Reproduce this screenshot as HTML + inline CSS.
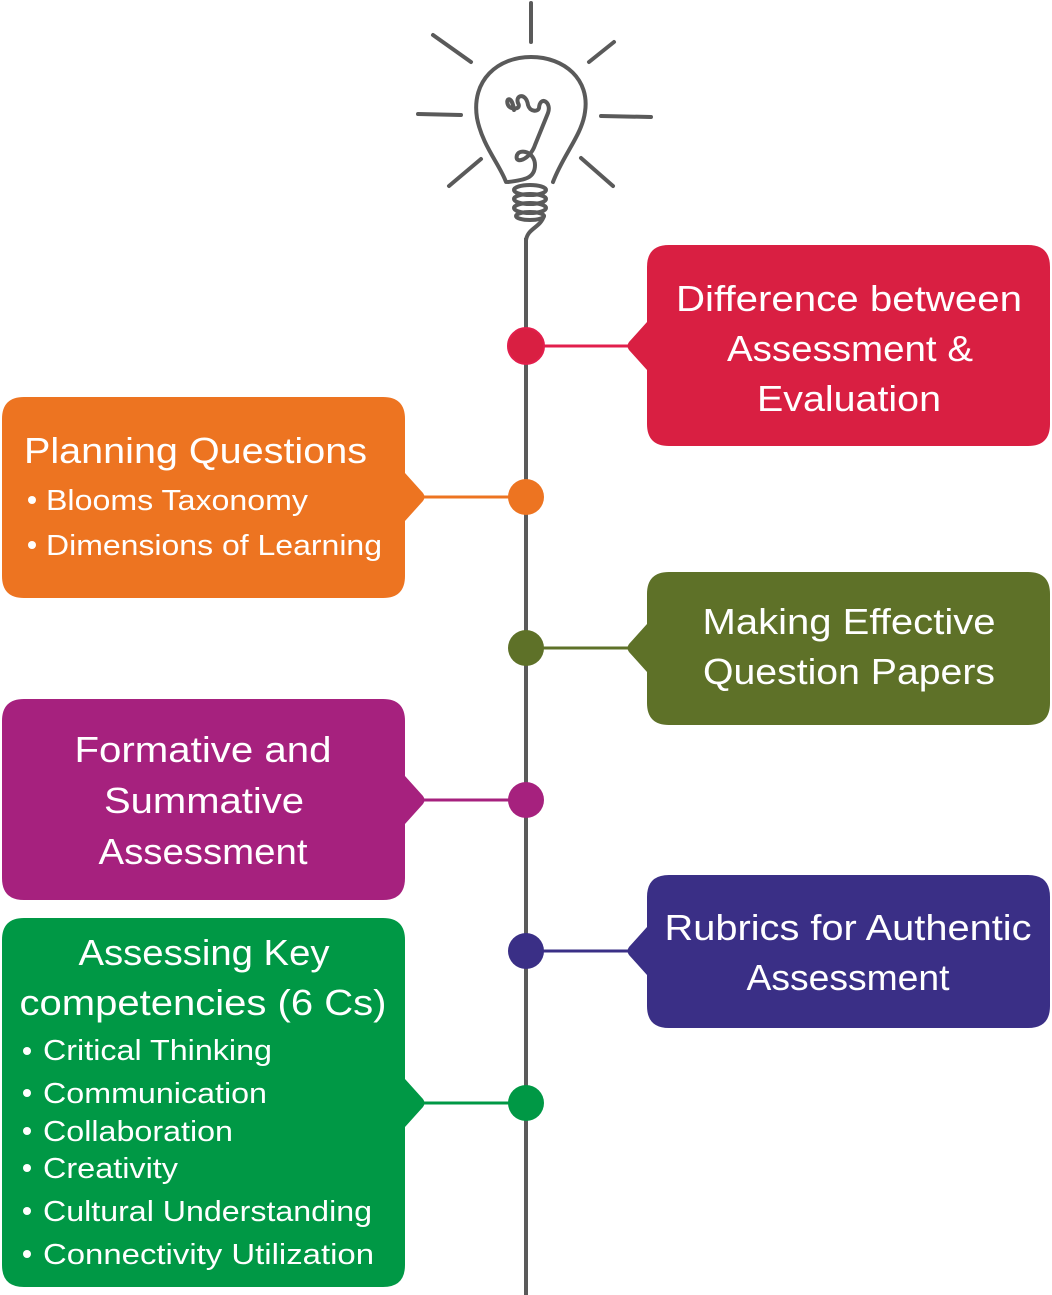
<!DOCTYPE html>
<html><head><meta charset="utf-8"><style>
html,body{margin:0;padding:0;background:#fff;}
svg{display:block;}
text{font-family:"Liberation Sans",sans-serif;fill:#fff;}
.t{font-size:36px;}
.b{font-size:29px;}
</style></head><body>
<svg width="1052" height="1295" viewBox="0 0 1052 1295" xmlns="http://www.w3.org/2000/svg">
<g stroke="#5a5a5a" stroke-width="4" fill="none" stroke-linecap="round">
<line x1="531" y1="3" x2="531" y2="42"/>
<line x1="433" y1="35" x2="471" y2="62"/>
<line x1="589" y1="62" x2="614" y2="42"/>
<line x1="418" y1="114" x2="461" y2="115"/>
<line x1="601" y1="116" x2="651" y2="117"/>
<line x1="449" y1="186" x2="481" y2="159"/>
<line x1="581" y1="158" x2="613" y2="186"/>
<path d="M506,182 C500,165 482,145 477,118 C471,80 498,57 531,57 C565,57 590,80 585,112 C582,135 563,155 553,182"/>
<path d="M508,182 C525,180 535,178 535,165 C535,152 520,148 517,155 C514,165 530,160 535,145 L548,113 C552,102 540,95 539,108 C538,112 530,112 528,105 C526,92 515,95 518,103 C522,110 510,110 508,105 C505,98 512,95 514,110"/>
<ellipse cx="530" cy="190" rx="16" ry="5"/>
<ellipse cx="530" cy="199" rx="16" ry="5"/>
<ellipse cx="530" cy="208" rx="16" ry="5"/>
<ellipse cx="530" cy="216" rx="14" ry="4"/>
<path d="M544,216 C540,228 528,228 526,240"/>
</g>
<line x1="526" y1="238" x2="526" y2="1295" stroke="#5a5a5a" stroke-width="4"/>

<!-- red -->
<line x1="526" y1="346" x2="640" y2="346" stroke="#e21f4c" stroke-width="3"/>
<circle cx="526" cy="346" r="18" fill="#d91f42" stroke="#e21f4c" stroke-width="2"/>
<path d="M669,245 H1028 Q1050,245 1050,267 V424 Q1050,446 1028,446 H669 Q647,446 647,424 V370 L629,350 Q626,346 629,342 L647,322 V267 Q647,245 669,245Z" fill="#d91f42"/>
<text class="t" x="849" y="311" text-anchor="middle" textLength="346" lengthAdjust="spacingAndGlyphs">Difference between</text>
<text class="t" x="850" y="361" text-anchor="middle" textLength="246" lengthAdjust="spacingAndGlyphs">Assessment &amp;</text>
<text class="t" x="849" y="411" text-anchor="middle" textLength="184" lengthAdjust="spacingAndGlyphs">Evaluation</text>

<!-- orange -->
<line x1="410" y1="497" x2="526" y2="497" stroke="#ed7421" stroke-width="3"/>
<circle cx="526" cy="497" r="18" fill="#ed7421"/>
<path d="M24,397 H383 Q405,397 405,419 V473 L423,493 Q426,497 423,501 L405,521 V576 Q405,598 383,598 H24 Q2,598 2,576 V419 Q2,397 24,397Z" fill="#ed7421"/>
<text class="t" x="24" y="463" textLength="343" lengthAdjust="spacingAndGlyphs">Planning Questions</text>
<circle cx="32" cy="500" r="4" fill="#fff"/>
<text class="b" x="46" y="510" textLength="262" lengthAdjust="spacingAndGlyphs">Blooms Taxonomy</text>
<circle cx="32" cy="545" r="4" fill="#fff"/>
<text class="b" x="46" y="555" textLength="336" lengthAdjust="spacingAndGlyphs">Dimensions of Learning</text>

<!-- olive -->
<line x1="526" y1="648" x2="640" y2="648" stroke="#5e7128" stroke-width="3"/>
<circle cx="526" cy="648" r="18" fill="#5e7128"/>
<path d="M669,572 H1028 Q1050,572 1050,594 V703 Q1050,725 1028,725 H669 Q647,725 647,703 V672 L629,652 Q626,648 629,644 L647,624 V594 Q647,572 669,572Z" fill="#5e7128"/>
<text class="t" x="849" y="634" text-anchor="middle" textLength="293" lengthAdjust="spacingAndGlyphs">Making Effective</text>
<text class="t" x="849" y="684" text-anchor="middle" textLength="292" lengthAdjust="spacingAndGlyphs">Question Papers</text>

<!-- purple -->
<line x1="410" y1="800" x2="526" y2="800" stroke="#a6217e" stroke-width="3"/>
<circle cx="526" cy="800" r="18" fill="#a6217e"/>
<path d="M24,699 H383 Q405,699 405,721 V776 L423,796 Q426,800 423,804 L405,824 V878 Q405,900 383,900 H24 Q2,900 2,878 V721 Q2,699 24,699Z" fill="#a6217e"/>
<text class="t" x="203" y="762" text-anchor="middle" textLength="257" lengthAdjust="spacingAndGlyphs">Formative and</text>
<text class="t" x="204" y="813" text-anchor="middle" textLength="200" lengthAdjust="spacingAndGlyphs">Summative</text>
<text class="t" x="203" y="864" text-anchor="middle" textLength="209" lengthAdjust="spacingAndGlyphs">Assessment</text>

<!-- indigo -->
<line x1="526" y1="951" x2="640" y2="951" stroke="#3a2f86" stroke-width="3"/>
<circle cx="526" cy="951" r="18" fill="#3a2f86"/>
<path d="M669,875 H1028 Q1050,875 1050,897 V1006 Q1050,1028 1028,1028 H669 Q647,1028 647,1006 V975 L629,955 Q626,951 629,947 L647,927 V897 Q647,875 669,875Z" fill="#3a2f86"/>
<text class="t" x="848" y="940" text-anchor="middle" textLength="367" lengthAdjust="spacingAndGlyphs">Rubrics for Authentic</text>
<text class="t" x="848" y="990" text-anchor="middle" textLength="203" lengthAdjust="spacingAndGlyphs">Assessment</text>

<!-- green -->
<line x1="410" y1="1103" x2="526" y2="1103" stroke="#009845" stroke-width="3"/>
<circle cx="526" cy="1103" r="18" fill="#009845"/>
<path d="M24,918 H383 Q405,918 405,940 V1079 L423,1099 Q426,1103 423,1107 L405,1127 V1265 Q405,1287 383,1287 H24 Q2,1287 2,1265 V940 Q2,918 24,918Z" fill="#009845"/>
<text class="t" x="204" y="965" text-anchor="middle" textLength="251" lengthAdjust="spacingAndGlyphs">Assessing Key</text>
<text class="t" x="203" y="1015" text-anchor="middle" textLength="367" lengthAdjust="spacingAndGlyphs">competencies (6 Cs)</text>
<g fill="#fff">
<circle cx="27" cy="1051" r="4"/><circle cx="27" cy="1093" r="4"/><circle cx="27" cy="1131" r="4"/>
<circle cx="27" cy="1168" r="4"/><circle cx="27" cy="1211" r="4"/><circle cx="27" cy="1254" r="4"/>
</g>
<text class="b" x="43" y="1060" textLength="229" lengthAdjust="spacingAndGlyphs">Critical Thinking</text>
<text class="b" x="43" y="1103" textLength="224" lengthAdjust="spacingAndGlyphs">Communication</text>
<text class="b" x="43" y="1141" textLength="190" lengthAdjust="spacingAndGlyphs">Collaboration</text>
<text class="b" x="43" y="1178" textLength="135" lengthAdjust="spacingAndGlyphs">Creativity</text>
<text class="b" x="43" y="1221" textLength="329" lengthAdjust="spacingAndGlyphs">Cultural Understanding</text>
<text class="b" x="43" y="1264" textLength="331" lengthAdjust="spacingAndGlyphs">Connectivity Utilization</text>
</svg>
</body></html>
